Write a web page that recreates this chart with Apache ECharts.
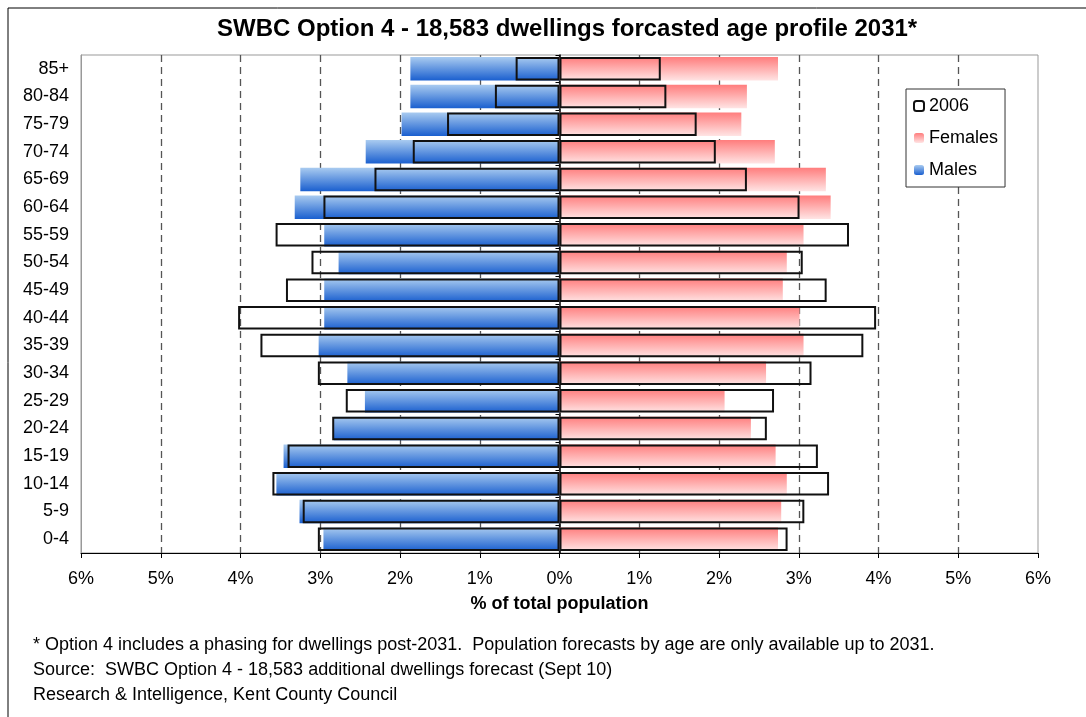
<!DOCTYPE html>
<html>
<head>
<meta charset="utf-8">
<script src="https://cdn.jsdelivr.net/npm/echarts@6/dist/echarts.min.js"></script>
<style>
html,body{margin:0;padding:0;background:#fff;}
#chart{width:1086px;height:717px;}
</style>
</head>
<body>
<div id="chart"></div>
<script>
const ageGroups = ['0-4','5-9','10-14','15-19','20-24','25-29','30-34','35-39','40-44','45-49','50-54','55-59','60-64','65-69','70-74','75-79','80-84','85+'];
// % of total population, 2031 forecast
const males2031   = [2.96,3.26,3.55,3.46,2.83,2.44,2.66,3.02,2.95,2.95,2.77,2.95,3.32,3.25,2.43,1.98,1.87,1.87];
const females2031 = [2.74,2.78,2.85,2.71,2.40,2.07,2.59,3.06,3.01,2.80,2.85,3.06,3.40,3.34,2.70,2.28,2.35,2.74];
// 2006 profile
const males2006   = [3.03,3.22,3.60,3.41,2.85,2.68,3.03,3.75,4.03,3.43,3.11,3.56,2.96,2.32,1.84,1.41,0.81,0.55];
const females2006 = [2.86,3.07,3.38,3.24,2.60,2.69,3.16,3.81,3.97,3.35,3.05,3.63,3.01,2.35,1.96,1.72,1.34,1.27];
const xTicks = {min:-6, max:6, interval:1};

const FONT = '"Liberation Sans", Arial, sans-serif';
const chart = echarts.init(document.getElementById('chart'));

const maleGrad = new echarts.graphic.LinearGradient(0,0,0,1,[{offset:0,color:'#a9cbf0'},{offset:1,color:'#1a5fcf'}]);
const femaleGrad = new echarts.graphic.LinearGradient(0,0,0,1,[{offset:0,color:'#ff7d7d'},{offset:1,color:'#ffe4e4'}]);

const option = {
  animation:false,
  backgroundColor:'#fff',
  textStyle:{fontFamily:FONT},
  title:{
    text:'SWBC Option 4 - 18,583 dwellings forcasted age profile 2031*',
    left:212, top:12,
    textStyle:{fontFamily:FONT, fontSize:24, fontWeight:'bold', color:'#000'}
  },
  legend:{
    data:['2006','Females','Males'],
    orient:'vertical',
    left:906, top:89,
    padding:[8,7,8,7],
    itemGap:14,
    itemWidth:10, itemHeight:10,
    borderColor:'#333', borderWidth:1,
    backgroundColor:'#fff',
    textStyle:{fontFamily:FONT, fontSize:18, color:'#000'}
  },
  grid:{left:81, right:48, top:55, bottom:164, show:true, borderColor:'#999', borderWidth:1, containLabel:false},
  xAxis:{
    type:'value', min:xTicks.min, max:xTicks.max, interval:xTicks.interval,
    axisLine:{show:true, lineStyle:{color:'#000', width:1}},
    axisTick:{show:true, length:5, lineStyle:{color:'#000'}},
    axisLabel:{fontFamily:FONT, fontSize:18, color:'#000', margin:17,
      formatter:v=>Math.abs(v)+'%'},
    splitLine:{show:true, showMinLine:false, showMaxLine:false, lineStyle:{color:'#555', type:[7,5], width:1.3}},
    name:'% of total population', nameLocation:'middle', nameGap:42,
    nameTextStyle:{fontFamily:FONT, fontSize:18, fontWeight:'bold', color:'#000'}
  },
  yAxis:[{
    type:'category', data:ageGroups, position:'left',
    axisLine:{show:true, onZero:false, lineStyle:{color:'#999'}},
    axisTick:{show:false},
    axisLabel:{fontFamily:FONT, fontSize:18, color:'#000', margin:12}
  },{
    type:'category', data:ageGroups, position:'left',
    axisLine:{show:true, onZero:true, lineStyle:{color:'#000', width:1.5}},
    axisTick:{show:true, length:4, lineStyle:{color:'#000'}},
    axisLabel:{show:false}
  }],
  series:[
    {name:'Males', type:'bar', yAxisIndex:0, data:males2031.map(v=>-v),
      barCategoryGap:'15%', barGap:'-100%', itemStyle:{color:maleGrad}, z:2},
    {name:'Females', type:'bar', yAxisIndex:0, data:females2031,
      barCategoryGap:'15%', barGap:'-100%', itemStyle:{color:femaleGrad}, z:2},
    {name:'2006', type:'bar', yAxisIndex:0, data:males2006.map(v=>-v),
      barCategoryGap:'15%', barGap:'-100%', itemStyle:{color:'rgba(255,255,255,0)', borderColor:'#111', borderWidth:2}, z:3},
    {name:'2006', type:'bar', yAxisIndex:0, data:females2006,
      barCategoryGap:'15%', barGap:'-100%', itemStyle:{color:'rgba(255,255,255,0)', borderColor:'#111', borderWidth:2}, z:3}
  ],
  graphic:[
    {type:'line', shape:{x1:8,y1:8,x2:1086,y2:8}, style:{stroke:'#000', lineWidth:1}},
    {type:'line', shape:{x1:8,y1:8,x2:8,y2:717}, style:{stroke:'#000', lineWidth:1}},
    {type:'text', left:33, top:636, style:{text:'* Option 4 includes a phasing for dwellings post-2031.  Population forecasts by age are only available up to 2031.', font:'18px '+FONT, fill:'#000'}},
    {type:'text', left:33, top:661, style:{text:'Source:  SWBC Option 4 - 18,583 additional dwellings forecast (Sept 10)', font:'18px '+FONT, fill:'#000'}},
    {type:'text', left:33, top:686, style:{text:'Research & Intelligence, Kent County Council', font:'18px '+FONT, fill:'#000'}}
  ]
};
chart.setOption(option);
</script>
</body>
</html>
